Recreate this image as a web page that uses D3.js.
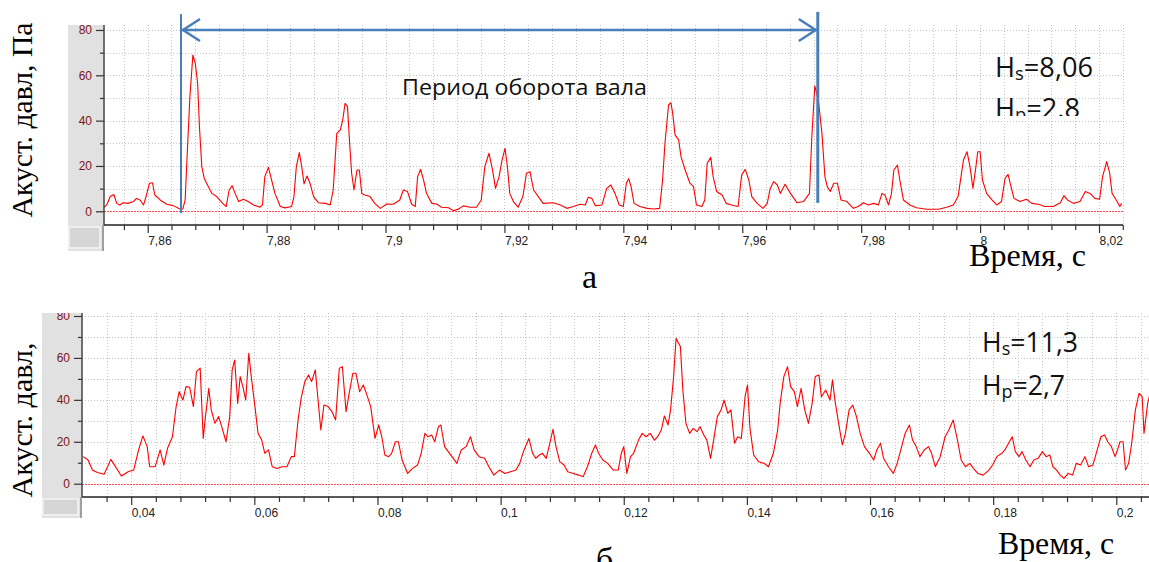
<!DOCTYPE html>
<html>
<head>
<meta charset="utf-8">
<script src="https://cdn.jsdelivr.net/npm/d3@7"></script>
<style>
  html, body { margin: 0; padding: 0; background: #fff; }
  svg { display: block; }
</style>
</head>
<body>
<svg id="fig" width="1149" height="562"></svg>
<script>
// ---- data (а): время, с / акустическое давление, Па
const topTime = [
  7.8525,7.8531,7.8537,7.8543,7.8548,7.8553,7.8559,7.8567,7.8576,7.8581,
  7.8587,7.8593,7.8598,7.8603,7.8608,7.8612,7.8621,7.8632,7.8643,7.8654,
  7.8659,7.8663,7.8667,7.8671,7.8676,7.8680,7.8684,7.8687,7.8691,7.8695,
  7.8699,7.8708,7.8716,7.8725,7.8732,7.8737,7.8742,7.8747,7.8753,7.8761,
  7.8769,7.8778,7.8789,7.8793,7.8797,7.8803,7.8807,7.8814,7.8823,7.8831,
  7.8842,7.8846,7.8850,7.8855,7.8859,7.8863,7.8868,7.8873,7.8879,7.8887,
  7.8899,7.8907,7.8912,7.8918,7.8924,7.8928,7.8932,7.8936,7.8940,7.8943,
  7.8947,7.8952,7.8956,7.8960,7.8965,7.8974,7.8982,7.8991,7.9002,7.9013,
  7.9024,7.9030,7.9037,7.9044,7.9050,7.9054,7.9059,7.9064,7.9069,7.9078,
  7.9086,7.9094,7.9106,7.9114,7.9122,7.9131,7.9142,7.9153,7.9161,7.9167,
  7.9174,7.9180,7.9185,7.9191,7.9196,7.9201,7.9205,7.9209,7.9215,7.9223,
  7.9231,7.9237,7.9243,7.9249,7.9257,7.9265,7.9282,7.9294,7.9305,7.9316,
  7.9327,7.9336,7.9341,7.9347,7.9353,7.9364,7.9372,7.9379,7.9386,7.9393,
  7.9400,7.9405,7.9409,7.9413,7.9418,7.9428,7.9440,7.9451,7.9461,7.9466,
  7.9470,7.9476,7.9480,7.9483,7.9487,7.9493,7.9497,7.9504,7.9512,7.9518,
  7.9523,7.9532,7.9537,7.9541,7.9547,7.9551,7.9557,7.9566,7.9573,7.9582,
  7.9593,7.9599,7.9605,7.9611,7.9616,7.9625,7.9635,7.9642,7.9647,7.9653,
  7.9659,7.9664,7.9672,7.9681,7.9692,7.9703,7.9713,7.9717,7.9722,7.9728,
  7.9734,7.9739,7.9743,7.9748,7.9754,7.9760,7.9766,7.9776,7.9787,7.9795,
  7.9804,7.9812,7.9821,7.9829,7.9835,7.9840,7.9846,7.9851,7.9855,7.9861,
  7.9865,7.9871,7.9882,7.9893,7.9910,7.9930,7.9944,7.9955,7.9963,7.9972,
  7.9978,7.9983,7.9988,7.9993,7.9996,8.0000,8.0004,8.0011,8.0020,8.0028,
  8.0036,8.0042,8.0047,8.0052,8.0057,8.0067,8.0078,8.0087,8.0098,8.0109,
  8.0123,8.0135,8.0141,8.0147,8.0157,8.0168,8.0177,8.0185,8.0193,8.0201,
  8.0206,8.0213,8.0218,8.0222,8.0229,8.0235,8.0238
];
const topPressure = [
  1.3,2.8,6.5,7.4,3.5,2.8,3.8,3.5,4.3,5.7,
  5.0,2.8,7.2,12.4,12.6,7.2,5.0,3.1,2.5,1.0,
  1.0,5.0,28.5,50.6,69.0,65.3,56.5,37.4,19.7,14.6,
  12.4,7.9,6.5,3.8,2.1,9.4,11.3,7.9,4.3,5.3,
  4.3,2.8,1.8,2.8,15.3,19.4,15.3,7.9,2.1,1.5,
  2.1,6.5,19.7,25.9,19.7,12.1,15.6,12.4,6.5,3.8,
  3.5,2.8,9.4,34.4,35.9,40.3,47.6,46.2,28.5,16.8,
  9.4,18.2,18.2,7.9,7.2,6.5,3.5,1.3,3.2,3.1,
  5.0,9.4,8.7,3.1,2.1,15.3,18.5,13.8,7.9,3.5,
  3.2,1.8,1.6,0.3,0.9,2.4,1.8,1.8,5.0,19.7,
  25.6,18.2,10.1,15.3,22.6,27.8,19.7,7.9,4.3,1.8,
  6.5,16.8,17.5,9.4,6.5,3.5,3.8,2.8,1.3,2.1,
  3.1,2.8,6.2,5.7,2.5,2.8,10.1,11.6,7.9,2.8,
  2.1,12.4,14.4,10.9,3.5,2.1,1.3,1.0,1.3,13.8,
  30.0,46.9,47.9,43.2,33.7,31.5,24.1,18.2,12.4,10.9,
  2.8,2.1,5.0,21.2,23.8,15.3,8.7,7.2,3.5,2.8,
  2.1,16.0,18.5,13.8,6.5,3.5,1.3,3.5,10.1,13.1,
  11.6,7.9,11.9,7.9,3.8,4.3,7.9,32.9,55.3,49.1,
  34.4,15.3,10.9,8.7,12.4,12.4,5.0,4.3,1.3,2.1,
  3.8,2.8,3.5,2.8,7.9,7.2,2.8,7.9,18.2,20.4,
  13.8,5.0,2.8,1.6,0.9,0.9,1.8,2.8,6.5,22.6,
  26.3,19.7,10.1,19.7,26.3,26.3,13.8,7.9,5.0,2.8,
  4.3,14.6,16.3,10.9,5.7,4.3,5.3,3.5,3.1,2.1,
  2.1,3.8,6.9,5.0,3.5,4.3,8.7,7.9,5.7,5.3,
  15.3,21.9,16.8,7.9,5.0,2.1,3.5
];

// ---- data (б)
const bottomTime = [
  0.0322,0.0330,0.0337,0.0345,0.0356,0.0367,0.0384,0.0395,0.0404,0.0412,
  0.0419,0.0426,0.0430,0.0439,0.0447,0.0453,0.0459,0.0467,0.0473,0.0478,
  0.0484,0.0489,0.0495,0.0501,0.0506,0.0512,0.0517,0.0520,0.0526,0.0530,
  0.0536,0.0542,0.0547,0.0554,0.0560,0.0564,0.0568,0.0573,0.0577,0.0582,
  0.0586,0.0591,0.0595,0.0601,0.0606,0.0612,0.0617,0.0623,0.0629,0.0637,
  0.0645,0.0653,0.0660,0.0665,0.0671,0.0676,0.0682,0.0688,0.0693,0.0699,
  0.0703,0.0708,0.0713,0.0720,0.0726,0.0732,0.0738,0.0743,0.0749,0.0754,
  0.0760,0.0765,0.0771,0.0777,0.0782,0.0789,0.0796,0.0802,0.0807,0.0812,
  0.0818,0.0823,0.0829,0.0834,0.0840,0.0849,0.0857,0.0865,0.0871,0.0877,
  0.0882,0.0888,0.0893,0.0899,0.0903,0.0909,0.0915,0.0921,0.0929,0.0936,
  0.0944,0.0951,0.0957,0.0965,0.0974,0.0981,0.0989,0.0998,0.1007,0.1016,
  0.1025,0.1031,0.1038,0.1046,0.1052,0.1057,0.1063,0.1068,0.1074,0.1080,
  0.1085,0.1090,0.1096,0.1103,0.1109,0.1118,0.1127,0.1134,0.1141,0.1148,
  0.1154,0.1159,0.1166,0.1174,0.1183,0.1191,0.1196,0.1200,0.1205,0.1211,
  0.1216,0.1224,0.1230,0.1236,0.1243,0.1250,0.1255,0.1261,0.1266,0.1272,
  0.1276,0.1281,0.1285,0.1289,0.1292,0.1296,0.1301,0.1307,0.1313,0.1319,
  0.1324,0.1330,0.1335,0.1341,0.1346,0.1352,0.1358,0.1363,0.1369,0.1374,
  0.1380,0.1385,0.1391,0.1397,0.1401,0.1405,0.1411,0.1419,0.1428,0.1435,
  0.1443,0.1450,0.1454,0.1460,0.1466,0.1471,0.1477,0.1482,0.1488,0.1494,
  0.1500,0.1506,0.1511,0.1517,0.1521,0.1528,0.1535,0.1539,0.1543,0.1549,
  0.1555,0.1560,0.1566,0.1572,0.1578,0.1584,0.1591,0.1599,0.1606,0.1611,
  0.1617,0.1622,0.1630,0.1638,0.1644,0.1650,0.1657,0.1664,0.1669,0.1675,
  0.1681,0.1688,0.1695,0.1700,0.1706,0.1714,0.1722,0.1728,0.1735,0.1742,
  0.1748,0.1755,0.1762,0.1768,0.1775,0.1784,0.1793,0.1799,0.1806,0.1814,
  0.1819,0.1825,0.1831,0.1836,0.1842,0.1847,0.1853,0.1860,0.1866,0.1873,
  0.1880,0.1886,0.1892,0.1897,0.1903,0.1909,0.1915,0.1922,0.1929,0.1935,
  0.1942,0.1949,0.1955,0.1962,0.1969,0.1975,0.1981,0.1986,0.1992,0.1998,
  0.2002,0.2006,0.2011,0.2015,0.2020,0.2025,0.2031,0.2037,0.2042,0.2045,
  0.2051,0.2057,0.2060
];
const bottomPressure = [
  12.9,11.3,6.5,5.3,4.5,11.6,3.7,5.7,6.5,16.1,
  22.8,17.7,8.1,8.1,16.1,8.9,16.9,22.4,36.8,43.9,
  39.9,46.3,46.0,36.8,53.5,55.1,21.6,30.4,45.5,35.2,
  28.8,32.0,27.2,20.0,32.0,54.3,59.0,38.3,51.1,45.5,
  39.9,62.2,51.1,36.8,24.0,20.8,14.5,16.1,8.1,7.3,
  8.1,8.1,12.9,12.9,30.4,40.7,48.7,51.9,48.7,54.3,
  41.5,25.6,37.5,36.8,34.4,30.4,55.1,55.8,34.4,43.1,
  52.7,52.7,43.9,47.1,43.1,36.8,21.6,28.0,22.4,13.7,
  12.9,14.5,20.0,20.0,11.3,4.9,7.3,8.9,14.5,24.0,
  22.4,23.2,20.0,27.2,28.0,17.7,15.3,12.9,9.7,16.1,
  17.7,22.4,16.1,12.9,12.1,8.1,4.1,6.5,4.9,5.7,
  6.5,9.7,16.1,21.6,14.5,12.1,13.7,14.5,12.1,19.3,
  25.9,17.7,10.5,8.9,5.7,4.9,4.1,3.3,8.1,14.5,
  18.5,14.5,11.3,9.7,6.5,6.5,14.5,17.7,4.9,12.9,
  14.5,20.8,24.0,22.4,24.0,20.8,22.4,25.6,32.3,28.0,
  35.2,51.1,69.4,67.0,65.4,44.7,28.8,24.0,26.4,24.8,
  27.2,23.2,20.8,12.1,20.8,32.0,35.2,39.9,33.6,35.2,
  19.3,22.4,21.6,41.5,47.1,26.4,13.7,10.5,9.7,8.1,
  14.5,25.6,38.3,51.1,55.8,46.3,43.9,36.8,45.5,35.2,
  28.8,38.3,51.1,51.9,41.5,44.7,39.9,49.5,39.9,28.8,
  18.5,24.0,35.2,37.5,32.0,24.0,17.7,14.5,11.3,16.1,
  19.3,12.1,8.1,4.9,9.7,16.1,24.0,28.0,20.8,17.7,
  12.9,16.1,17.7,14.5,8.1,12.9,22.4,25.6,30.4,20.8,
  11.3,8.1,9.7,7.3,4.9,4.1,6.5,8.9,12.9,14.5,
  16.1,19.3,22.4,15.3,12.9,15.3,11.3,8.1,11.3,12.1,
  15.3,12.9,13.7,8.1,6.5,4.1,2.5,4.9,4.1,9.7,
  8.9,12.9,8.1,8.9,16.1,22.4,23.2,20.0,17.7,12.9,
  16.1,20.0,20.0,6.5,9.7,19.3,35.2,43.1,41.5,24.0,
  38.3,45.5,46.3
];

// axis ticks
const topTicks = [7.86, 7.88, 7.9, 7.92, 7.94, 7.96, 7.98, 8, 8.02];
const bottomTicks = [0.04, 0.06, 0.08, 0.1, 0.12, 0.14, 0.16, 0.18, 0.2];
const yMajor = [0, 20, 40, 60, 80];
const yMinor = [10, 30, 50, 70];
const yGrid = [10, 20, 30, 40, 50, 60, 70, 80];
const minorStep = 0.004;

// period annotation on (а)
const periodStart = 7.8656, periodEnd = 7.9727, periodLevel = 80;

const svg = d3.select("#fig");
const defs = svg.append("defs");
const fmt = d => String(d).replace(".", ",");

function drawPanel(p) {
  const x = d3.scaleLinear().domain([p.ticks[0], p.ticks[p.ticks.length - 1]]).range(p.xRange);
  const y = d3.scaleLinear().domain([0, 80]).range(p.yRange);

  defs.append("clipPath").attr("id", p.id + "-panel")
    .append("rect").attr("x", 0).attr("y", p.top).attr("width", 1149).attr("height", p.bottom - p.top);
  defs.append("clipPath").attr("id", p.id + "-plot")
    .append("rect").attr("x", p.left).attr("y", p.top).attr("width", p.right - p.left).attr("height", p.axisY - p.top);

  const g = svg.append("g").attr("clip-path", `url(#${p.id}-panel)`);

  // grey frame on the left
  g.append("rect")
    .attr("x", p.panelLeft).attr("y", p.top)
    .attr("width", p.left - p.panelLeft).attr("height", p.bottom - p.top)
    .attr("fill", "#e1e1e1");
  g.append("rect")
    .attr("x", p.panelLeft + 1).attr("y", p.axisY + 2)
    .attr("width", p.left - p.panelLeft - 5).attr("height", p.bottom - p.axisY - 5)
    .attr("fill", "#d6d6d6").attr("stroke", "#f5f5f5").attr("stroke-width", 1.5);

  const lo = x.invert(p.left), hi = x.invert(p.right);
  const steps = d3.range(Math.ceil(lo / minorStep - 1e-6), Math.floor(hi / minorStep + 1e-6) + 1)
    .map(k => +(k * minorStep).toFixed(4));
  const minorTicks = steps.filter(v => !p.ticks.some(t => Math.abs(t - v) < 1e-6));

  // grid
  const grid = g.append("g").attr("stroke", "#c4c4c4").attr("stroke-dasharray", "1,2").attr("stroke-width", 1);
  grid.selectAll("line.h").data(yGrid).enter().append("line")
    .attr("x1", p.left).attr("x2", p.right)
    .attr("y1", d => Math.round(y(d)) + 0.5).attr("y2", d => Math.round(y(d)) + 0.5);
  grid.selectAll("line.v").data(steps).enter().append("line")
    .attr("x1", d => Math.round(x(d)) + 0.5).attr("x2", d => Math.round(x(d)) + 0.5)
    .attr("y1", p.top).attr("y2", p.axisY);

  // zero level
  g.append("line")
    .attr("x1", p.left).attr("x2", p.right)
    .attr("y1", Math.round(y(0)) + 0.5).attr("y2", Math.round(y(0)) + 0.5)
    .attr("stroke", "#ff4d4d").attr("stroke-width", 1).attr("stroke-dasharray", "2,1");

  // signal
  const line = d3.line().x((d, i) => x(p.times[i])).y(d => y(d));
  g.append("path")
    .datum(p.values)
    .attr("clip-path", `url(#${p.id}-plot)`)
    .attr("d", line)
    .attr("fill", "none").attr("stroke", "#ff0000").attr("stroke-width", 1.1)
    .attr("stroke-linejoin", "round");

  // x axis
  const xa = g.append("g").attr("transform", `translate(0,${p.axisY})`);
  xa.append("g").call(d3.axisBottom(x).tickValues(minorTicks).tickSize(5).tickFormat(""));
  const xm = xa.append("g").call(d3.axisBottom(x).tickValues(p.ticks).tickSize(8).tickFormat(fmt));
  xa.selectAll(".domain").remove();
  xa.selectAll(".tick line").attr("stroke", "#333").attr("stroke-width", 1.2);
  xm.selectAll("text")
    .attr("text-anchor", "start").attr("x", 0)
    .attr("font-family", "Liberation Sans, Arial, sans-serif").attr("font-size", 12)
    .attr("fill", "#222");

  // y axis
  const yax = g.append("g").attr("transform", `translate(${p.left},0)`);
  yax.append("g").call(d3.axisLeft(y).tickValues(yMinor).tickSize(4).tickFormat(""));
  const ym = yax.append("g").call(d3.axisLeft(y).tickValues(yMajor).tickSize(8).tickPadding(4));
  yax.selectAll(".domain").remove();
  yax.selectAll(".tick line").attr("stroke", "#333").attr("stroke-width", 1.2);
  ym.selectAll("text")
    .attr("font-family", "Liberation Sans, Arial, sans-serif").attr("font-size", 12)
    .attr("fill", "#7a1515");

  // axis lines
  g.append("line").attr("x1", p.left).attr("x2", p.left).attr("y1", p.top).attr("y2", p.axisY)
    .attr("stroke", "#444").attr("stroke-width", 1.5);
  g.append("line").attr("x1", p.left - 1).attr("x2", p.left - 1).attr("y1", p.axisY).attr("y2", p.bottom)
    .attr("stroke", "#a0a0a0").attr("stroke-width", 2);
  g.append("line").attr("x1", p.left).attr("x2", p.right).attr("y1", p.axisY).attr("y2", p.axisY)
    .attr("stroke", "#222").attr("stroke-width", 1.5);

  return { x, y };
}

const chartA = drawPanel({
  id: "a", ticks: topTicks, times: topTime, values: topPressure,
  xRange: [147.7, 1099], yRange: [211.3, 30],
  panelLeft: 68, left: 104, right: 1123, top: 25, axisY: 225, bottom: 251
});
const chartB = drawPanel({
  id: "b", ticks: bottomTicks, times: bottomTime, values: bottomPressure,
  xRange: [131.2, 1116.3], yRange: [483.7, 316],
  panelLeft: 42, left: 82, right: 1149, top: 313, axisY: 497, bottom: 518
});

// ---- period arrow (а)
const blue = "#4a7ebb";
const ann = svg.append("g").attr("stroke", blue).attr("fill", "none");
const xs = chartA.x(periodStart), xe = chartA.x(periodEnd), ya = chartA.y(periodLevel);
ann.append("line").attr("x1", xs).attr("x2", xs).attr("y1", chartA.y(87)).attr("y2", chartA.y(-0.8)).attr("stroke-width", 2);
ann.append("line").attr("x1", xe).attr("x2", xe).attr("y1", chartA.y(88)).attr("y2", chartA.y(3.7)).attr("stroke-width", 3);
ann.append("line").attr("x1", xs + 1).attr("x2", xe - 2).attr("y1", ya).attr("y2", ya).attr("stroke-width", 2.5);
ann.append("path").attr("d", `M${xs + 19},${ya - 11} L${xs + 2},${ya} L${xs + 19},${ya + 11}`).attr("stroke-width", 2.5);
ann.append("path").attr("d", `M${xe - 19},${ya - 11} L${xe - 2},${ya} L${xe - 19},${ya + 11}`).attr("stroke-width", 2.5);

svg.append("text")
  .attr("x", 402).attr("y", 95)
  .attr("font-family", "Open Sans, sans-serif").attr("font-size", 21)
  .attr("textLength", 245).attr("lengthAdjust", "spacingAndGlyphs")
  .attr("fill", "#111")
  .text("Период оборота вала");

// ---- H labels
function hLabel(x, yb, sub, rest, len, clipId) {
  const t = svg.append("text")
    .attr("x", x).attr("y", yb)
    .attr("font-family", "Open Sans, sans-serif").attr("font-size", 28)
    .attr("fill", "#111")
    .attr("textLength", len).attr("lengthAdjust", "spacingAndGlyphs");
  if (clipId) t.attr("clip-path", `url(#${clipId})`);
  t.append("tspan").text("H");
  t.append("tspan").attr("font-size", 19).attr("dy", 3).text(sub);
  t.append("tspan").attr("dy", -3).text(rest);
}
// the lower label of (а) is cut by its text box in the original figure
defs.append("clipPath").attr("id", "hpclip")
  .append("rect").attr("x", 980).attr("y", 80).attr("width", 140).attr("height", 36);
hLabel(995, 77, "s", "=8,06", 98);
hLabel(995, 118, "p", "=2.8", 85, "hpclip");
hLabel(982, 352, "s", "=11,3", 96);
hLabel(982, 395, "p", "=2,7", 83);

// ---- axis captions
const serif = "Liberation Serif, Times New Roman, serif";
svg.append("text")
  .attr("transform", "translate(32,120) rotate(-90)")
  .attr("text-anchor", "middle")
  .attr("font-family", serif).attr("font-size", 30)
  .attr("textLength", 195).attr("lengthAdjust", "spacingAndGlyphs")
  .attr("fill", "#000")
  .text("Акуст. давл, Па");
svg.append("text")
  .attr("transform", "translate(32,420) rotate(-90)")
  .attr("text-anchor", "middle")
  .attr("font-family", serif).attr("font-size", 30)
  .attr("textLength", 155).attr("lengthAdjust", "spacingAndGlyphs")
  .attr("fill", "#000")
  .text("Акуст. давл,");

svg.append("text")
  .attr("x", 969).attr("y", 266)
  .attr("font-family", serif).attr("font-size", 32)
  .attr("textLength", 117).attr("lengthAdjust", "spacingAndGlyphs")
  .text("Время, с");
svg.append("text")
  .attr("x", 998).attr("y", 554)
  .attr("font-family", serif).attr("font-size", 32)
  .attr("textLength", 116).attr("lengthAdjust", "spacingAndGlyphs")
  .text("Время, с");

svg.append("text")
  .attr("x", 582).attr("y", 288)
  .attr("font-family", serif).attr("font-size", 34)
  .text("а");
svg.append("text")
  .attr("x", 596).attr("y", 571)
  .attr("font-family", serif).attr("font-size", 34)
  .text("б");
</script>
</body>
</html>
